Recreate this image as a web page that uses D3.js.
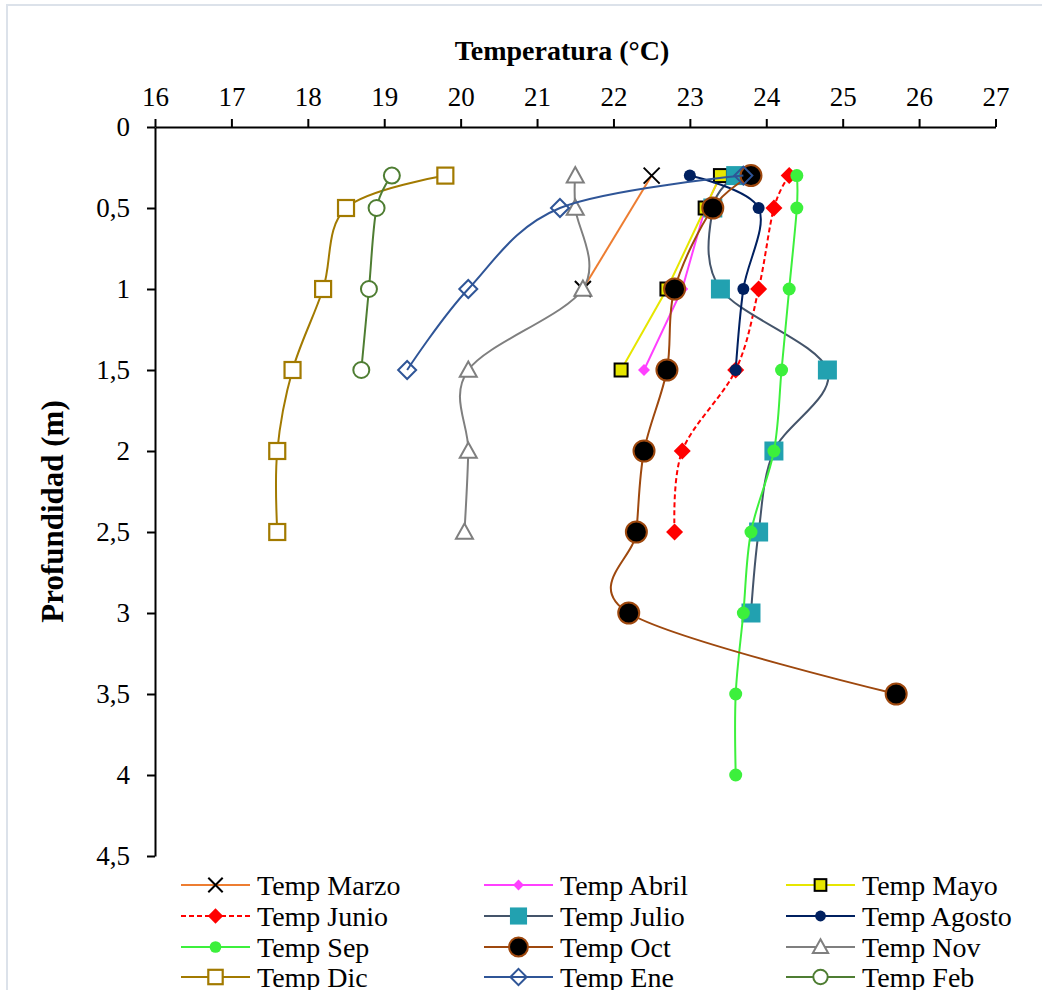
<!DOCTYPE html>
<html>
<head>
<meta charset="utf-8">
<script src="https://cdn.jsdelivr.net/npm/d3@7"></script>
<style>
  html, body { margin: 0; padding: 0; background: #fff; }
  svg { display: block; }
  text { font-family: "Times New Roman", "Liberation Serif", serif; fill: #000; }
</style>
</head>
<body>
<svg id="chart" width="1042" height="990"></svg>
<script>
// ---------- DATA ----------
const depths = [0.3, 0.5, 1, 1.5, 2, 2.5, 3, 3.5, 4];
const xTicks = [16, 17, 18, 19, 20, 21, 22, 23, 24, 25, 26, 27];
const yTicks = [0, 0.5, 1, 1.5, 2, 2.5, 3, 3.5, 4, 4.5];

const tempMarzo  = [22.5, null, 21.6];
const tempAbril  = [23.4, 23.2, 22.9, 22.4];
const tempMayo   = [23.4, 23.2, 22.7, 22.1];
const tempJunio  = [24.3, 24.1, 23.9, 23.6, 22.9, 22.8];
const tempJulio  = [23.6, 23.3, 23.4, 24.8, 24.1, 23.9, 23.8];
const tempAgosto = [23.0, 23.9, 23.7, 23.6];
const tempSep    = [24.4, 24.4, 24.3, 24.2, 24.1, 23.8, 23.7, 23.6, 23.6];
const tempOct    = [23.8, 23.3, 22.8, 22.7, 22.4, 22.3, 22.2, 25.7];
const tempNov    = [21.5, 21.5, 21.6, 20.1, 20.1, 20.05];
const tempDic    = [19.8, 18.5, 18.2, 17.8, 17.6, 17.6];
const tempEne    = [23.7, 21.3, 20.1, 19.3];
const tempFeb    = [19.1, 18.9, 18.8, 18.7];

const seriesNames = ["Temp Marzo", "Temp Abril", "Temp Mayo", "Temp Junio", "Temp Julio", "Temp Agosto",
                     "Temp Sep", "Temp Oct", "Temp Nov", "Temp Dic", "Temp Ene", "Temp Feb"];
const seriesTemps = [tempMarzo, tempAbril, tempMayo, tempJunio, tempJulio, tempAgosto,
                     tempSep, tempOct, tempNov, tempDic, tempEne, tempFeb];

// ---------- STYLES ----------
const styles = [
  { line: "#ED7D31", smooth: false, marker: "x",       mStroke: "#000",    mFill: "none",    size: 16, mw: 2 },
  { line: "#FF40FF", smooth: false, marker: "diamond", mStroke: "#FF40FF", mFill: "#FF40FF", size: 12, mw: 0 },
  { line: "#E6E600", smooth: false, marker: "square",  mStroke: "#000",    mFill: "#E6E600", size: 13, mw: 2 },
  { line: "#FF0000", smooth: true,  marker: "diamond", mStroke: "#FF0000", mFill: "#FF0000", size: 17, mw: 0, dash: "5,3" },
  { line: "#44546A", smooth: true,  marker: "square",  mStroke: "#22A1B0", mFill: "#22A1B0", size: 19, mw: 0 },
  { line: "#002060", smooth: true,  marker: "circle",  mStroke: "#002060", mFill: "#002060", size: 12, mw: 0 },
  { line: "#3CF03C", smooth: true,  marker: "circle",  mStroke: "#3CF03C", mFill: "#3CF03C", size: 13, mw: 0 },
  { line: "#9E480E", smooth: true,  marker: "circle",  mStroke: "#9E480E", mFill: "#000",    size: 21, mw: 2 },
  { line: "#7F7F7F", smooth: true,  marker: "triangle",mStroke: "#7F7F7F", mFill: "#fff",    size: 17, mw: 2 },
  { line: "#A27A00", smooth: true,  marker: "square",  mStroke: "#A27A00", mFill: "#fff",    size: 16, mw: 2.2 },
  { line: "#2F5597", smooth: true,  marker: "diamond", mStroke: "#2F5597", mFill: "none",    size: 18, mw: 2 },
  { line: "#4E7D32", smooth: true,  marker: "circle",  mStroke: "#4E7D32", mFill: "#fff",    size: 16, mw: 2 }
];

const svg = d3.select("#chart");

// outer chart border
svg.append("rect").attr("x", 7).attr("y", 5).attr("width", 1200).attr("height", 1200)
  .attr("fill", "none").attr("stroke", "#DCE2EA").attr("stroke-width", 2);

const x = d3.scaleLinear().domain([16, 27]).range([155, 995.5]);
const y = d3.scaleLinear().domain([0, 4.5]).range([127, 856]);

const FS = 27;

// axes
const xAxis = d3.axisTop(x).tickValues(xTicks).tickSize(8).tickSizeOuter(0).tickPadding(13)
  .tickFormat(d3.format("d"));
const gx = svg.append("g").attr("transform", `translate(0,${y(0)})`).call(xAxis);
gx.select(".domain").attr("stroke", "#000").attr("stroke-width", 2);
gx.selectAll(".tick line").attr("stroke", "#000").attr("stroke-width", 2);
gx.selectAll(".tick text").attr("font-size", FS).attr("font-family", "'Times New Roman','Liberation Serif',serif");

const yAxis = d3.axisLeft(y).tickValues(yTicks).tickSize(8).tickSizeOuter(0).tickPadding(17)
  .tickFormat(d => String(d).replace(".", ","));
const gy = svg.append("g").attr("transform", `translate(${x(16)},0)`).call(yAxis);
gy.select(".domain").attr("stroke", "#000").attr("stroke-width", 2);
gy.selectAll(".tick line").attr("stroke", "#000").attr("stroke-width", 2);
gy.selectAll(".tick text").attr("font-size", FS).attr("font-family", "'Times New Roman','Liberation Serif',serif");

// axis titles
svg.append("text").attr("x", 562).attr("y", 60).attr("text-anchor", "middle")
  .attr("font-size", 28).attr("font-weight", "bold").text("Temperatura (°C)");
svg.append("text").attr("transform", `translate(63,${(y(0) + y(4.5)) / 2 + 20}) rotate(-90)`)
  .attr("text-anchor", "middle").attr("font-size", 31).attr("font-weight", "bold").text("Profundidad (m)");

// marker drawing
function drawMarker(g, type, cx, cy, st, scale) {
  const s = st.size * (scale || 1);
  const h = s / 2;
  let el;
  if (type === "circle") {
    el = g.append("circle").attr("cx", cx).attr("cy", cy).attr("r", h);
  } else if (type === "square") {
    el = g.append("rect").attr("x", cx - h).attr("y", cy - h).attr("width", s).attr("height", s);
  } else if (type === "diamond") {
    el = g.append("path").attr("d", `M${cx},${cy - h}L${cx + h},${cy}L${cx},${cy + h}L${cx - h},${cy}Z`);
  } else if (type === "triangle") {
    el = g.append("path").attr("d", `M${cx},${cy - h}L${cx + h},${cy + h * 0.8}L${cx - h},${cy + h * 0.8}Z`);
  } else if (type === "x") {
    el = g.append("path").attr("d", `M${cx - h},${cy - h}L${cx + h},${cy + h}M${cx + h},${cy - h}L${cx - h},${cy + h}`);
  }
  el.attr("fill", st.mFill).attr("stroke", st.mw > 0 ? st.mStroke : "none").attr("stroke-width", st.mw);
}

// series
const plot = svg.append("g");
seriesTemps.forEach((temps, i) => {
  const st = styles[i];
  const pts = temps.map((t, j) => ({ t: t, d: depths[j] })).filter(p => p.t !== null);
  const line = d3.line().x(p => x(p.t)).y(p => y(p.d))
    .curve(st.smooth ? d3.curveCatmullRom.alpha(0) : d3.curveLinear);
  const g = plot.append("g");
  g.append("path").attr("d", line(pts)).attr("fill", "none").attr("stroke", st.line)
    .attr("stroke-width", 2).attr("stroke-dasharray", st.dash || null);
  pts.forEach(p => drawMarker(g, st.marker, x(p.t), y(p.d), st, 1));
});

// legend
const legCols = [181, 484, 786];
const legRows = [885, 916, 947, 977];
seriesNames.forEach((name, i) => {
  const st = styles[i];
  const cx0 = legCols[i % 3], cy = legRows[Math.floor(i / 3)];
  const g = svg.append("g");
  g.append("line").attr("x1", cx0).attr("x2", cx0 + 69).attr("y1", cy).attr("y2", cy)
    .attr("stroke", st.line).attr("stroke-width", 2).attr("stroke-dasharray", st.dash || null);
  drawMarker(g, st.marker, cx0 + 34.5, cy, st, 0.9);
  g.append("text").attr("x", cx0 + 76).attr("y", cy).attr("dy", "0.35em")
    .attr("font-size", 28).text(name);
});
</script>
</body>
</html>
